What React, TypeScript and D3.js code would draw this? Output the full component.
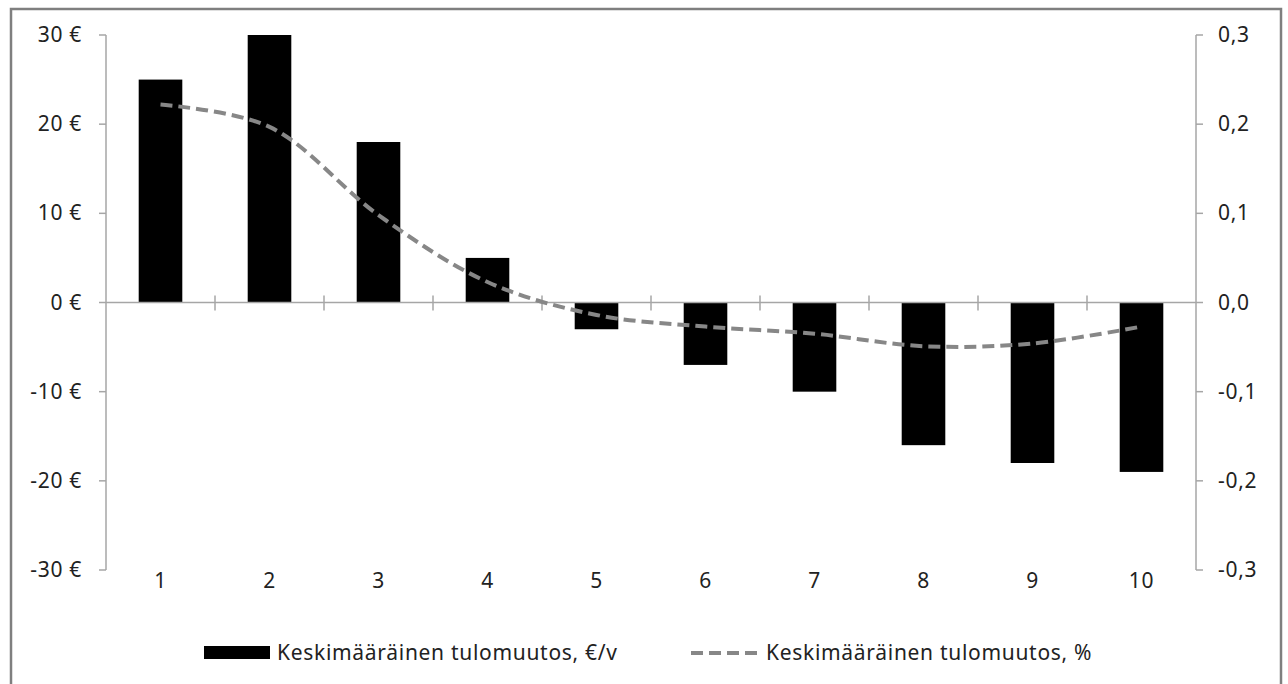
import { useEffect, useRef } from 'react'
import * as d3 from 'd3'

const deciles = ['1', '2', '3', '4', '5', '6', '7', '8', '9', '10']
const euroChange = [25, 30, 18, 5, -3, -7, -10, -16, -18, -19]
const pctChange = [0.222, 0.197, 0.098, 0.023, -0.014, -0.027, -0.035, -0.049, -0.046, -0.027]
const leftTicks = [30, 20, 10, 0, -10, -20, -30]
const rightTicks = [0.3, 0.2, 0.1, 0, -0.1, -0.2, -0.3]
const legendLabels = ['Keskimääräinen tulomuutos, €/v', 'Keskimääräinen tulomuutos, %']

export default function App() {
  const ref = useRef<SVGSVGElement>(null)
  useEffect(() => {
    if (!ref.current) return
    const W = 1288, H = 684
    const L = 106, R = 1196, T = 35, B = 570
    const font = 'Noto Sans, sans-serif'
    const fs = '21px'
    const ls = '0.7px'
    const svg = d3.select(ref.current)
    svg.selectAll('*').remove()
    svg.attr('width', W).attr('height', H)
    svg.append('rect').attr('width', W).attr('height', H).attr('fill', '#fff')
    // outer frame
    svg.append('rect').attr('x', 11).attr('y', 9).attr('width', 1270).attr('height', 690)
      .attr('fill', 'none').attr('stroke', '#7f7f7f').attr('stroke-width', 2.5)

    const x = d3.scaleBand().domain(deciles).range([L, R]).paddingInner(0.6).paddingOuter(0.3)
    const yL = d3.scaleLinear().domain([-30, 30]).range([B, T])
    const yR = d3.scaleLinear().domain([-0.3, 0.3]).range([B, T])
    const cx = (d: string) => (x(d) as number) + x.bandwidth() / 2
    const step = (R - L) / deciles.length

    const axisCol = '#a6a6a6'
    const g = svg.append('g').style('font-family', font).style('font-size', fs).style('letter-spacing', ls)
    // left axis
    g.append('line').attr('x1', L).attr('x2', L).attr('y1', T).attr('y2', B).attr('stroke', axisCol).attr('stroke-width', 1.5)
    g.selectAll('.lt').data(leftTicks).join('line').attr('x1', L - 7).attr('x2', L)
      .attr('y1', d => yL(d)).attr('y2', d => yL(d)).attr('stroke', axisCol).attr('stroke-width', 1.5)
    g.selectAll('.ll').data(leftTicks).join('text').attr('x', 82).attr('y', d => yL(d) + 7)
      .attr('text-anchor', 'end').attr('fill', '#222')
      .text(d => `${d} €`)
    // right axis
    g.append('line').attr('x1', R).attr('x2', R).attr('y1', T).attr('y2', B).attr('stroke', axisCol).attr('stroke-width', 1.5)
    g.selectAll('.rt').data(rightTicks).join('line').attr('x1', R).attr('x2', R + 7)
      .attr('y1', d => yR(d)).attr('y2', d => yR(d)).attr('stroke', axisCol).attr('stroke-width', 1.5)
    g.selectAll('.rl').data(rightTicks).join('text').attr('x', 1218).attr('y', d => yR(d) + 7)
      .attr('fill', '#222')
      .text(d => d3.format('.1f')(d).replace('.', ',').replace('\u2212', '-'))

    // bars
    g.selectAll('.bar').data(euroChange).join('rect')
      .attr('x', (_, i) => x(deciles[i]) as number).attr('width', x.bandwidth())
      .attr('y', d => yL(Math.max(0, d))).attr('height', d => Math.abs(yL(d) - yL(0)))
      .attr('fill', '#000')

    // zero axis with category ticks
    g.append('line').attr('x1', L).attr('x2', R).attr('y1', yL(0)).attr('y2', yL(0)).attr('stroke', axisCol).attr('stroke-width', 1.5)
    g.selectAll('.ct').data(d3.range(1, deciles.length)).join('line')
      .attr('x1', i => L + i * step).attr('x2', i => L + i * step)
      .attr('y1', yL(0) - 7).attr('y2', yL(0) + 8).attr('stroke', axisCol).attr('stroke-width', 1.5)

    // category labels
    g.selectAll('.xl').data(deciles).join('text').attr('x', d => cx(d)).attr('y', 588)
      .attr('text-anchor', 'middle').attr('fill', '#222')
      .text(d => d)

    // line
    const line = d3.line<number>().x((_, i) => cx(deciles[i])).y(d => yR(d)).curve(d3.curveCatmullRom.alpha(0.5))
    g.append('path').datum(pctChange).attr('d', line).attr('fill', 'none')
      .attr('stroke', '#878787').attr('stroke-width', 4).attr('stroke-dasharray', '12 6')

    // legend
    const lg = svg.append('g').style('font-family', font).style('font-size', fs).style('letter-spacing', ls)
    lg.append('rect').attr('x', 204).attr('y', 646).attr('width', 66).attr('height', 13).attr('fill', '#000')
    lg.append('text').attr('x', 277).attr('y', 660).attr('fill', '#222').text(legendLabels[0])
    lg.append('line').attr('x1', 691).attr('x2', 760).attr('y1', 653).attr('y2', 653)
      .attr('stroke', '#878787').attr('stroke-width', 4).attr('stroke-dasharray', '12 6')
    lg.append('text').attr('x', 766).attr('y', 660).attr('fill', '#222').text(legendLabels[1])
  }, [])
  return (
    <div style={{ position: 'fixed', left: 0, top: 0 }}>
      <svg ref={ref} />
    </div>
  )
}
